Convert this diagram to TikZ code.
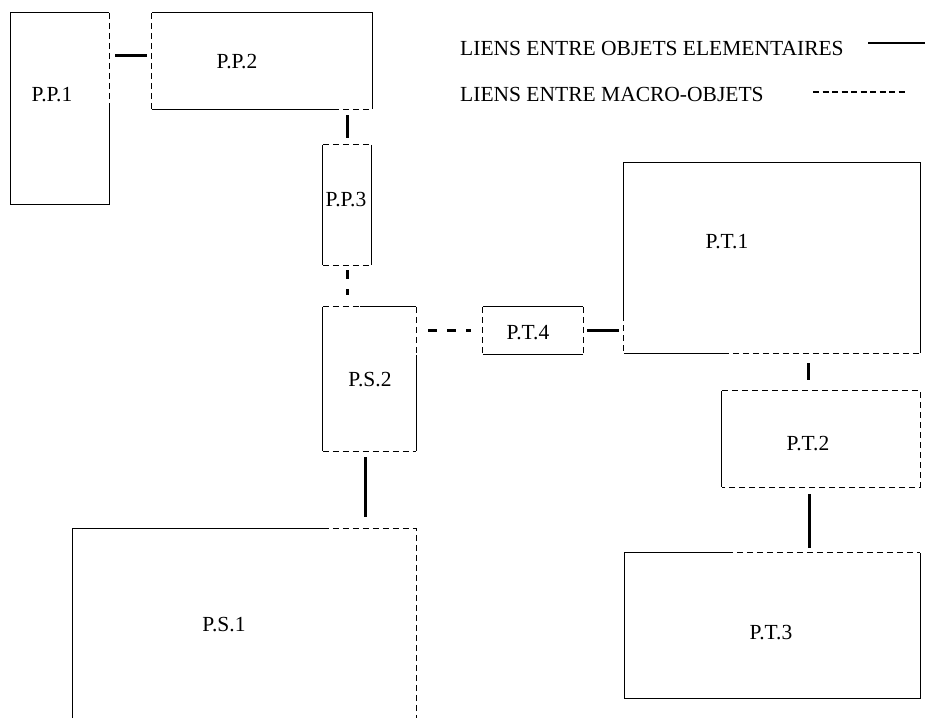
\documentclass[tikz,border=0pt]{standalone}
\usepackage{fontspec}
\setmainfont{Liberation Serif}

\begin{document}
\begin{tikzpicture}[x=1pt,y=-1pt,line cap=butt,
  bloc/.style={inner sep=0pt,draw=none},
  etiq/.style={inner sep=0pt,font=\fontsize{21.5}{24}\selectfont},
  plein/.style={line width=1.2pt},
  tirets/.style={line width=1.2pt,dash pattern=on 6pt off 4pt},
  lienE/.style={line width=3pt},
  lienM/.style={line width=3pt,dash pattern=on 9pt off 10pt}]
\useasboundingbox (0,0) rectangle (925,718);
% ---------- blocs ----------
\node[bloc,minimum width=98pt,minimum height=191pt] (pp1) at (60,108.5) {};
\node[bloc,minimum width=220pt,minimum height=96pt] (pp2) at (262,61) {};
\node[bloc,minimum width=48pt,minimum height=120pt] (pp3) at (347,205) {};
\node[bloc,minimum width=93pt,minimum height=144pt] (ps2) at (369.5,379) {};
\node[bloc,minimum width=100pt,minimum height=47pt] (pt4) at (533,330.5) {};
\node[bloc,minimum width=296pt,minimum height=190pt] (pt1) at (772,258) {};
\node[bloc,minimum width=198pt,minimum height=96pt] (pt2) at (821,439) {};
\node[bloc,minimum width=295pt,minimum height=145pt] (pt3) at (772.5,625.5) {};
\node[bloc,minimum width=343pt,minimum height=189pt] (ps1) at (244.5,623.5) {};
% noms
\node[etiq] (tpp1) at (52,95) {P.P.1};
\node[etiq] (tpp2) at (237,62) {P.P.2};
\node[etiq] (tpp3) at (346,200) {P.P.3};
\node[etiq] (tps2) at (370,380) {P.S.2};
\node[etiq] (tpt4) at (528,333) {P.T.4};
\node[etiq] (tpt1) at (727,242) {P.T.1};
\node[etiq] (tpt2) at (808,444) {P.T.2};
\node[etiq] (tpt3) at (771,633) {P.T.3};
\node[etiq] (tps1) at (224,625) {P.S.1};
% ---------- contours (plein / tirets) ----------
% P.P.1
\draw[plein] ([yshift=-94pt]pp1.north east) -- (pp1.south east) -- (pp1.south west) -- (pp1.north west) -- (pp1.north east);
\draw[tirets] (pp1.north east) -- ([yshift=-94pt]pp1.north east);
% P.P.2
\draw[plein] ([xshift=-39pt]pp2.south east) -- (pp2.south west);
\draw[plein] (pp2.south east) -- (pp2.north east) -- (pp2.north west);
\draw[tirets] (pp2.north west) -- (pp2.south west);
\draw[tirets] ([xshift=-39pt]pp2.south east) -- (pp2.south east);
% P.P.3
\draw[plein] (pp3.north west) -- (pp3.south west);
\draw[plein] (pp3.north east) -- (pp3.south east);
\draw[tirets] (pp3.north west) -- (pp3.north east);
\draw[tirets] (pp3.south west) -- (pp3.south east);
% P.S.2
\draw[plein] ([xshift=37pt]ps2.north west) -- (ps2.north east);
\draw[plein] ([yshift=-48pt]ps2.north east) -- (ps2.south east);
\draw[plein] (ps2.north west) -- (ps2.south west);
\draw[tirets] (ps2.north west) -- ([xshift=37pt]ps2.north west);
\draw[tirets] (ps2.north east) -- ([yshift=-48pt]ps2.north east);
\draw[tirets] (ps2.south west) -- (ps2.south east);
% P.T.4
\draw[plein] (pt4.north west) -- (pt4.north east);
\draw[plein] (pt4.south west) -- (pt4.south east);
\draw[tirets] (pt4.north west) -- (pt4.south west);
\draw[tirets] (pt4.north east) -- (pt4.south east);
% P.T.1
\draw[plein] ([xshift=99pt]pt1.south west) -- (pt1.south west);
\draw[plein] ([yshift=38pt]pt1.south west) -- (pt1.north west) -- (pt1.north east) -- (pt1.south east);
\draw[tirets] ([yshift=38pt]pt1.south west) -- (pt1.south west);
\draw[tirets] ([xshift=99pt]pt1.south west) -- (pt1.south east);
% P.T.2
\draw[plein] (pt2.north west) -- (pt2.south west);
\draw[tirets] (pt2.north west) -- (pt2.north east) -- (pt2.south east) -- (pt2.south west);
% P.T.3
\draw[plein] ([xshift=102pt]pt3.north west) -- (pt3.north west) -- (pt3.south west) -- (pt3.south east) -- (pt3.north east);
\draw[tirets] ([xshift=102pt]pt3.north west) -- (pt3.north east);
% P.S.1 (coupe en bas)
\draw[plein] (ps1.south west) -- (ps1.north west) -- ([xshift=250pt]ps1.north west);
\draw[tirets] ([xshift=250pt]ps1.north west) -- (ps1.north east) -- (ps1.south east);
% ---------- liens ----------
\coordinate (l1) at ([yshift=6pt]pp2.west);
\coordinate (l6) at ([xshift=-13pt]pt2.north);
\coordinate (l7) at ([xshift=-12pt]pt2.south);
\coordinate (l8) at ([xshift=-4pt]ps2.south);
\draw[lienE,shorten <=6pt,shorten >=5pt] (pp1.east |- l1) -- (l1);
\draw[lienE,shorten <=6pt,shorten >=7pt] (pp3.north |- pp2.south) -- (pp3.north);
\draw[lienM,shorten <=5pt,shorten >=12pt] (pp3.south) -- (pp3.south |- ps2.north);
\draw[lienM,shorten <=12pt,shorten >=12pt] (pt4.west -| ps2.east) -- (pt4.west);
\draw[lienE,shorten <=4pt,shorten >=5pt] (pt4.east) -- (pt4.east -| pt1.west);
\draw[lienE,shorten <=10pt,shorten >=11pt] (l6 |- pt1.south) -- (l6);
\draw[lienE,shorten <=7pt,shorten >=5pt] (l7) -- (l7 |- pt3.north);
\draw[lienE,shorten <=6pt,shorten >=12pt] (l8) -- (l8 |- ps1.north);
% ---------- legende ----------
\node[etiq,anchor=west] (leg1) at (460,48.5) {LIENS ENTRE OBJETS ELEMENTAIRES};
\node[etiq,anchor=west] (leg2) at (460,94.5) {LIENS ENTRE MACRO-OBJETS};
\coordinate (e1) at (868,43);
\coordinate (e2) at (925,43);
\coordinate (m1) at (813,92);
\coordinate (m2) at (907,92);
\draw[line width=2.2pt] (e1) -- (e2);
\draw[line width=2pt,dash pattern=on 6pt off 3.5pt] (m1) -- (m2);
\end{tikzpicture}
\end{document}
